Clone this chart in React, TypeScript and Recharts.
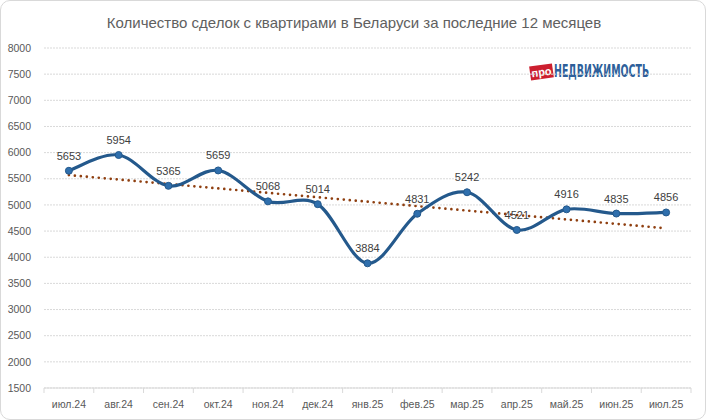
import React from "react";
import {
  LineChart,
  Line,
  XAxis,
  YAxis,
  CartesianGrid,
  LabelList,
} from "recharts";

// monthly deals, Jul 2024 - Jul 2025
const months = [
  "июл.24", "авг.24", "сен.24", "окт.24", "ноя.24", "дек.24", "янв.25",
  "фев.25", "мар.25", "апр.25", "май.25", "июн.25", "июл.25",
];
const deals = [5653, 5954, 5365, 5659, 5068, 5014, 3884, 4831, 5242, 4521, 4916, 4835, 4856];
// linear trend, ends
const trendEnds = [5570, 4553];
const yTicks = [1500, 2000, 2500, 3000, 3500, 4000, 4500, 5000, 5500, 6000, 6500, 7000, 7500, 8000];

const data = months.map((m, i) => ({
  month: m,
  deals: deals[i],
  trend: i === 0 ? trendEnds[0] : i === months.length - 1 ? trendEnds[1] : null,
}));

const TEXT = "#595959";
const LINE = "#24598c";
const PLOT_W = 647;
const BAND = PLOT_W / months.length;

// Excel-like smoothing (Catmull-Rom through the points)
function smoothCurve(context: any) {
  let pts: number[][] = [];
  return {
    areaStart() {},
    areaEnd() {},
    lineStart() {
      pts = [];
    },
    point(x: number, y: number) {
      pts.push([+x, +y]);
    },
    lineEnd() {
      if (!pts.length) return;
      context.moveTo(pts[0][0], pts[0][1]);
      for (let i = 0; i < pts.length - 1; i++) {
        const p0 = pts[Math.max(i - 1, 0)];
        const p1 = pts[i];
        const p2 = pts[i + 1];
        const p3 = pts[Math.min(i + 2, pts.length - 1)];
        context.bezierCurveTo(
          p1[0] + (p2[0] - p0[0]) / 6,
          p1[1] + (p2[1] - p0[1]) / 6,
          p2[0] - (p3[0] - p1[0]) / 6,
          p2[1] - (p3[1] - p1[1]) / 6,
          p2[0],
          p2[1]
        );
      }
    },
  };
}

function MonthTick(props: any) {
  const { x, y, payload, index } = props;
  const last = index === months.length - 1;
  return (
    <g>
      <line x1={x - BAND / 2} y1={y} x2={x - BAND / 2} y2={y + 5} stroke="#d9d9d9" />
      {last && <line x1={x + BAND / 2} y1={y} x2={x + BAND / 2} y2={y + 5} stroke="#d9d9d9" />}
      <text x={x} y={y + 20} textAnchor="middle" fill={TEXT} fontSize={10.5}>
        {payload.value}
      </text>
    </g>
  );
}

function Logo() {
  return (
    <svg
      width={160}
      height={34}
      overflow="visible"
      style={{ position: "absolute", left: 526, top: 53 }}
    >
      <g transform="rotate(-8 14 18)">
        <rect x={3} y={11} width={23} height={14} fill="#cc1f2f" />
        <text x={14.5} y={22} textAnchor="middle" fill="#fff" fontSize={11} fontWeight="bold">
          про
        </text>
      </g>
      <g transform="translate(27 23) scale(0.78 1)">
        <text
          x={0}
          y={0}
          fill="#2d5f9a"
          fontSize={17}
          fontWeight="bold"
          textLength={122}
          lengthAdjust="spacingAndGlyphs"
          fontFamily="'Liberation Sans Narrow', 'DejaVu Sans Condensed', sans-serif"
        >
          НЕДВИЖИМОСТЬ
        </text>
      </g>
    </svg>
  );
}

export default function App() {
  return (
    <div
      style={{
        position: "absolute",
        left: 0,
        top: 0,
        width: 706,
        height: 420,
        boxSizing: "border-box",
        border: "1px solid #d9d9d9",
        borderRadius: 10,
        background: "#fff",
        fontFamily: "'Liberation Sans', Arial, sans-serif",
        overflow: "hidden",
      }}
    >
      <div
        style={{
          position: "absolute",
          top: 13,
          left: 0,
          width: 706,
          textAlign: "center",
          fontSize: 15,
          color: "#606060",
        }}
      >
        Количество сделок с квартирами в Беларуси за последние 12 месяцев
      </div>
      <Logo />
      <LineChart
        width={706}
        height={420}
        data={data}
        margin={{ top: 48, right: 15, bottom: 0, left: 0 }}
        style={{ position: "absolute", left: -1, top: -1 }}
      >
        <CartesianGrid vertical={false} stroke="#d9d9d9" strokeDasharray="2 1" />
        <XAxis
          dataKey="month"
          height={32}
          padding={{ left: BAND / 2, right: BAND / 2 }}
          axisLine={{ stroke: "#d9d9d9" }}
          tickLine={false}
          tickSize={0}
          tickMargin={0}
          interval={0}
          tick={<MonthTick />}
        />
        <YAxis
          width={44}
          domain={[1500, 8000]}
          ticks={yTicks}
          interval={0}
          axisLine={false}
          tickLine={false}
          tickSize={0}
          tickMargin={13}
          tick={{ fill: TEXT, fontSize: 10.5 }}
        />
        <Line
          dataKey="trend"
          type="linear"
          connectNulls
          stroke="#8f3f10"
          strokeWidth={2.7}
          strokeDasharray="0 6"
          strokeLinecap="round"
          dot={false}
          activeDot={false}
          isAnimationActive={false}
        />
        <Line
          dataKey="deals"
          type={smoothCurve as any}
          stroke={LINE}
          strokeWidth={3.2}
          dot={{ r: 3.5, fill: "#2f6fad", stroke: LINE, strokeWidth: 1 }}
          activeDot={false}
          isAnimationActive={false}
        >
          <LabelList dataKey="deals" position="top" offset={11} fill="#404040" fontSize={11} />
        </Line>
      </LineChart>
    </div>
  );
}
